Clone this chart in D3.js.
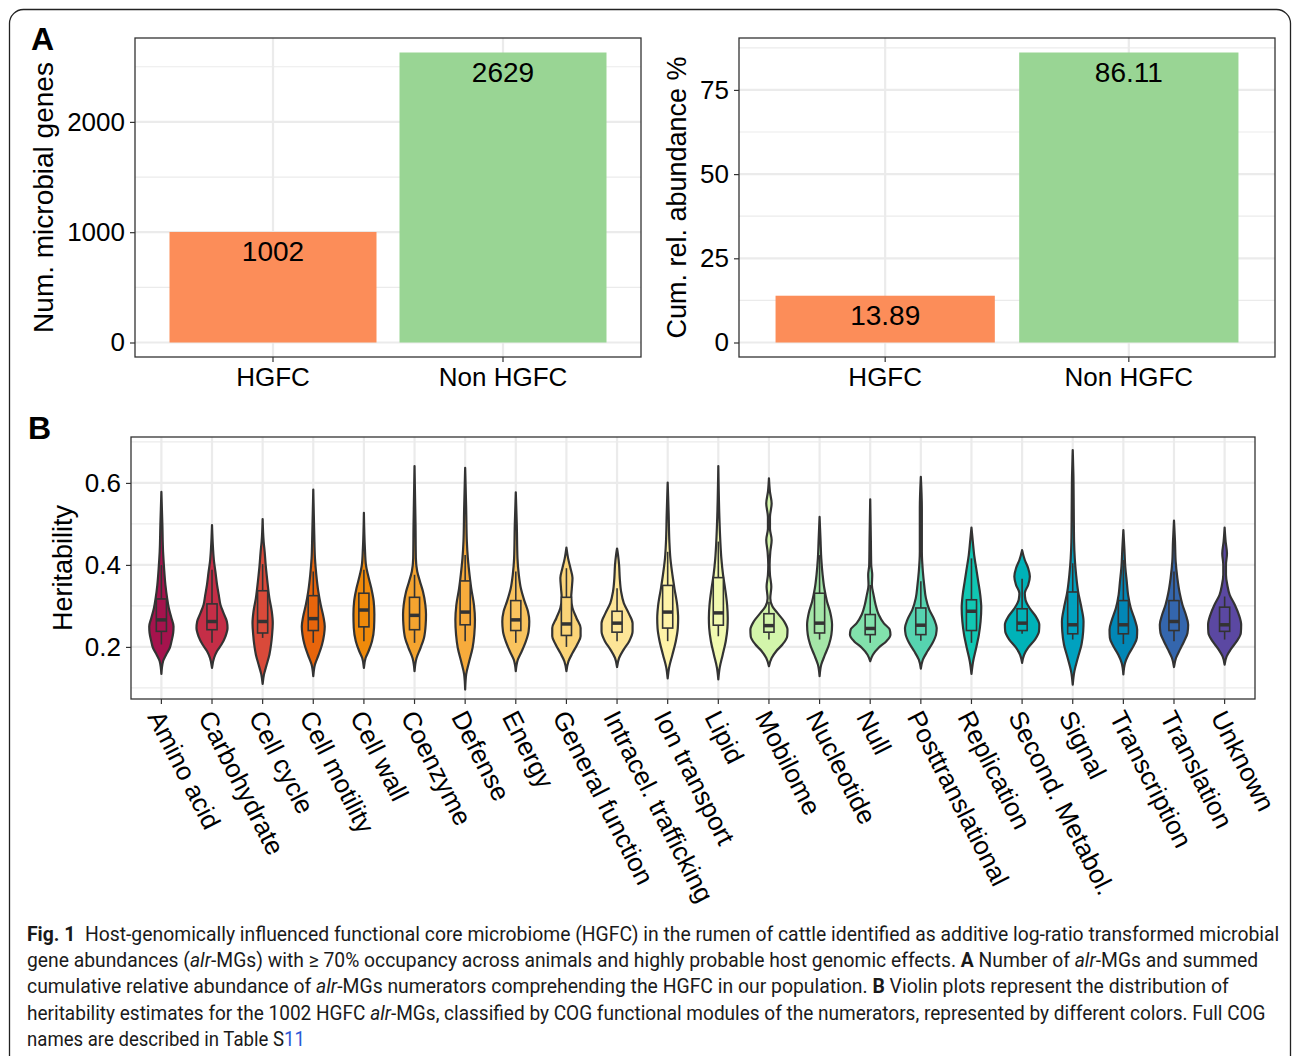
<!DOCTYPE html>
<html>
<head>
<meta charset="utf-8">
<script src="https://cdn.jsdelivr.net/npm/d3@7"></script>
<style>
  body { margin: 0; background: #fff; }
  svg { display: block; font-family: "Liberation Sans", Arial, sans-serif; }
</style>
</head>
<body>
<div id="chart"></div>
<script>
// ---- panel A data
const groups = ["HGFC", "Non HGFC"];
const groupColors = ["#fc8d59", "#99d594"];
const numGenes = [1002, 2629];
const cumAbundance = [13.89, 86.11];
const genesTicks = [0, 1000, 2000];
const abundanceTicks = [0, 25, 50, 75];

// ---- panel B data
const categories = ["Amino acid", "Carbohydrate", "Cell cycle", "Cell motility", "Cell wall",
  "Coenzyme", "Defense", "Energy", "General function", "Intracel. trafficking", "Ion transport",
  "Lipid", "Mobilome", "Nucleotide", "Null", "Posttranslational", "Replication",
  "Second. Metabol.", "Signal", "Transcription", "Translation", "Unknown"];
const violinColors = ["#a6134d", "#c52e47", "#d94a3a", "#e8650c", "#f08a0a", "#f5a42f",
  "#f7ab3c", "#f9c35e", "#fbd478", "#fde597", "#fef3a8", "#f1f9b0", "#d3f5ab", "#a5e6a8",
  "#82e1ac", "#56d3b0", "#11c7b3", "#00b2b8", "#01a1bf", "#0287b6", "#3466ad", "#5b48a2"];
const boxQ1     = [.238, .242, .234, .240, .249, .242, .254, .240, .228, .236, .246, .253, .236, .234, .230, .230, .240, .240, .232, .232, .240, .238];
const boxMedian = [.266, .262, .262, .269, .290, .277, .285, .266, .256, .258, .285, .283, .252, .258, .245, .253, .287, .258, .254, .254, .262, .254];
const boxQ3     = [.317, .305, .337, .325, .331, .321, .361, .313, .321, .287, .350, .369, .281, .331, .279, .295, .315, .293, .334, .313, .313, .297];
const whiskerLo = [.206, .210, .222, .210, .214, .210, .214, .210, .200, .214, .214, .226, .218, .218, .210, .215, .210, .232, .218, .207, .214, .218];
const whiskerHi = [.400, .388, .402, .384, .388, .376, .424, .384, .392, .343, .432, .457, .310, .424, .351, .360, .416, .366, .404, .412, .384, .323];
// [heritability, relative density] profiles
const densities = [
  [[.134,0],[.165,5],[.181,14],[.198,25],[.214,30],[.234,35],[.25,36],[.27,30],[.295,22],[.319,17],[.351,12],[.392,8],[.432,5],[.497,3],[.578,0]],
  [[.149,0],[.173,6],[.19,15],[.206,28],[.226,40],[.246,46],[.262,44],[.283,34],[.303,25],[.327,20],[.351,15],[.384,10],[.408,6],[.44,3],[.497,0]],
  [[.11,0],[.133,4],[.157,12],[.181,20],[.206,25],[.23,28],[.258,30],[.287,27],[.319,20],[.36,14],[.40,9],[.432,6],[.457,3],[.512,0]],
  [[.129,0],[.157,5],[.181,16],[.206,26],[.23,32],[.25,34],[.274,30],[.303,22],[.335,15],[.376,9],[.416,5],[.473,3],[.584,0]],
  [[.149,0],[.173,5],[.19,14],[.214,24],[.246,30],[.279,31],[.311,29],[.343,22],[.376,12],[.40,6],[.44,3],[.527,0]],
  [[.141,0],[.173,6],[.198,18],[.222,28],[.254,33],[.279,34],[.303,32],[.335,25],[.36,16],[.384,8],[.416,4],[.497,3],[.641,0]],
  [[.096,0],[.133,3],[.165,12],[.198,22],[.23,27],[.266,29],[.303,26],[.343,18],[.376,13],[.416,8],[.457,5],[.538,3],[.637,0]],
  [[.141,0],[.169,6],[.19,18],[.214,30],[.238,38],[.262,40],[.287,36],[.311,26],[.343,15],[.376,9],[.416,5],[.497,3],[.577,0]],
  [[.141,0],[.165,6],[.185,18],[.206,32],[.226,42],[.246,42],[.27,30],[.295,18],[.319,14],[.343,16],[.368,18],[.392,12],[.416,5],[.442,0]],
  [[.151,0],[.173,6],[.194,20],[.214,36],[.238,46],[.258,46],[.283,34],[.307,20],[.335,12],[.368,8],[.40,6],[.424,3],[.44,0]],
  [[.123,0],[.149,4],[.181,14],[.214,24],[.246,30],[.27,31],[.303,28],[.343,20],[.376,14],[.416,8],[.457,5],[.521,3],[.601,0]],
  [[.121,0],[.149,4],[.181,13],[.214,22],[.246,27],[.27,28],[.303,26],[.343,20],[.376,14],[.416,9],[.457,6],[.521,3],[.641,0]],
  [[.153,0],[.173,8],[.19,22],[.206,40],[.226,54],[.242,55],[.262,45],[.283,25],[.299,10],[.319,4],[.347,7],[.376,3],[.40,2],[.432,4],[.461,8],[.489,3],[.517,3],[.55,8],[.578,3],[.611,0]],
  [[.129,0],[.157,5],[.181,16],[.206,28],[.23,35],[.254,37],[.283,32],[.311,22],[.343,14],[.376,9],[.416,5],[.457,3],[.517,0]],
  [[.165,0],[.181,8],[.198,25],[.214,48],[.23,60],[.242,58],[.258,40],[.279,25],[.303,16],[.327,10],[.351,5],[.376,6],[.40,3],[.457,2],[.56,0]],
  [[.147,0],[.169,6],[.19,20],[.21,35],[.23,45],[.246,47],[.266,40],[.291,25],[.319,15],[.351,10],[.384,6],[.432,3],[.538,3],[.615,0]],
  [[.134,0],[.165,5],[.198,14],[.23,22],[.262,27],[.295,29],[.327,26],[.36,20],[.392,14],[.424,8],[.457,4],[.491,0]],
  [[.161,0],[.181,6],[.198,18],[.218,38],[.238,50],[.254,51],[.275,40],[.295,22],[.315,10],[.331,8],[.351,18],[.372,23],[.392,18],[.412,8],[.436,0]],
  [[.108,0],[.141,5],[.173,15],[.206,26],[.238,31],[.262,32],[.295,26],[.335,16],[.376,10],[.416,6],[.457,4],[.538,3],[.619,2],[.68,0]],
  [[.133,0],[.161,5],[.181,15],[.202,30],[.222,40],[.242,41],[.266,34],[.295,22],[.327,14],[.36,10],[.392,6],[.44,3],[.485,0]],
  [[.151,0],[.173,6],[.194,18],[.214,30],[.234,40],[.254,42],[.279,35],[.303,25],[.331,17],[.368,10],[.408,5],[.457,3],[.508,0]],
  [[.157,0],[.177,6],[.194,18],[.214,36],[.234,48],[.254,49],[.279,42],[.303,30],[.327,15],[.351,8],[.376,4],[.40,4],[.428,7],[.457,3],[.491,0]]
];
const heritTicks = [0.2, 0.4, 0.6];
const heritMinor = [0.1, 0.3, 0.5, 0.7];

const W = 1293, H = 1056;
const ink = "#333333", gridCol = "#ebebeb";

const svg = d3.select("#chart").append("svg")
  .attr("width", W).attr("height", H)
  .style("background-color", "white");

// outer frame of the figure
svg.append("rect")
  .attr("x", 9.5).attr("y", 9.5).attr("width", W - 12).attr("height", H + 40)
  .attr("rx", 14).attr("fill", "none").attr("stroke", "#222").attr("stroke-width", 1.3);

// grid lines of a panel
function panelFrame(x, y, box, yMajor, yMinor) {
  const g = svg.append("g");
  g.selectAll(".minor").data(yMinor).enter().append("line")
    .attr("x1", box.l).attr("x2", box.r).attr("y1", d => y(d)).attr("y2", d => y(d))
    .attr("stroke", gridCol).attr("stroke-width", 1.2);
  g.selectAll(".majorY").data(yMajor).enter().append("line")
    .attr("x1", box.l).attr("x2", box.r).attr("y1", d => y(d)).attr("y2", d => y(d))
    .attr("stroke", gridCol).attr("stroke-width", 2.2);
  g.selectAll(".majorX").data(x.domain()).enter().append("line")
    .attr("x1", d => x(d) + x.bandwidth() / 2).attr("x2", d => x(d) + x.bandwidth() / 2)
    .attr("y1", box.t).attr("y2", box.b)
    .attr("stroke", gridCol).attr("stroke-width", 2.2);
  return g;
}

function axes(g, x, y, box, yMajor, fmt) {
  const ya = g.append("g").attr("transform", `translate(${box.l},0)`)
    .call(d3.axisLeft(y).tickValues(yMajor).tickSize(5).tickPadding(5).tickFormat(fmt));
  ya.select(".domain").remove();
  ya.selectAll("line").attr("stroke", ink).attr("stroke-width", 1.2);
  ya.selectAll("text").attr("font-size", 26).attr("fill", "#000").attr("font-family", "Liberation Sans, Arial, sans-serif");
  const xa = g.append("g").attr("transform", `translate(0,${box.b})`)
    .call(d3.axisBottom(x).tickSize(5).tickPadding(6));
  xa.select(".domain").remove();
  xa.selectAll("line").attr("stroke", ink).attr("stroke-width", 1.2);
  xa.selectAll("text").attr("font-size", 26).attr("fill", "#000").attr("font-family", "Liberation Sans, Arial, sans-serif");
  g.append("rect").attr("x", box.l).attr("y", box.t)
    .attr("width", box.r - box.l).attr("height", box.b - box.t)
    .attr("fill", "none").attr("stroke", ink).attr("stroke-width", 1.3);
  return xa;
}

function yTitle(text, cx, cy, size) {
  svg.append("text").attr("transform", `translate(${cx},${cy}) rotate(-90)`)
    .attr("text-anchor", "middle").attr("dominant-baseline", "central")
    .attr("font-size", size).attr("fill", "#000").text(text);
}

// ---- Panel A bars
function barPanel(values, box, yTicks, yMinor, labelFmt, title, titleX, titleSize) {
  const x = d3.scaleBand().domain(groups).range([box.l, box.r]).paddingInner(0).paddingOuter(0.1);
  const vmax = d3.max(values);
  const y = d3.scaleLinear().domain([-0.05 * vmax, 1.05 * vmax]).range([box.b, box.t]);
  const g = panelFrame(x, y, box, yTicks, yMinor);
  g.selectAll(".bar").data(values).enter().append("rect")
    .attr("x", (d, i) => x(groups[i]) + x.bandwidth() * 0.05)
    .attr("width", x.bandwidth() * 0.9)
    .attr("y", d => y(d)).attr("height", d => y(0) - y(d))
    .attr("fill", (d, i) => groupColors[i]);
  g.selectAll(".lbl").data(values).enter().append("text")
    .attr("x", (d, i) => x(groups[i]) + x.bandwidth() / 2)
    .attr("y", d => y(d) + 29)
    .attr("text-anchor", "middle").attr("font-size", 28).attr("fill", "#000")
    .text(labelFmt);
  axes(g, x, y, box, yTicks, d3.format("d"));
  yTitle(title, titleX, (box.t + box.b) / 2, titleSize);
}

barPanel(numGenes, {l: 135, r: 641, t: 38, b: 357}, genesTicks, [500, 1500, 2500],
  d => d, "Num. microbial genes", 43, 28);
barPanel(cumAbundance, {l: 739, r: 1275, t: 38, b: 357}, abundanceTicks, [12.5, 37.5, 62.5, 87.5],
  d => d.toFixed(2), "Cum. rel. abundance %", 677, 27);

svg.append("text").attr("x", 31).attr("y", 50).attr("font-size", 32).attr("font-weight", "bold").text("A");
svg.append("text").attr("x", 28).attr("y", 439).attr("font-size", 32).attr("font-weight", "bold").text("B");

// ---- Panel B: violins
const boxB = {l: 131, r: 1255, t: 437, b: 699};
const xB = d3.scaleBand().domain(categories).range([boxB.l, boxB.r]).paddingInner(0).paddingOuter(0.1);
const yB = d3.scaleLinear().domain([0.073, 0.712]).range([boxB.b, boxB.t]);
const wB = d3.scaleLinear().domain([0, d3.max(densities.flat(), d => d[1])]).range([0, xB.bandwidth() * 0.4]);
const gB = panelFrame(xB, yB, boxB, heritTicks, heritMinor);

categories.forEach((c, i) => {
  const cx = xB(c) + xB.bandwidth() / 2;
  const area = d3.area()
    .y(d => yB(d[0]))
    .x0(d => cx - wB(d[1]))
    .x1(d => cx + wB(d[1]))
    .curve(d3.curveMonotoneY);
  gB.append("path").datum(densities[i]).attr("d", area)
    .attr("fill", violinColors[i]).attr("stroke", ink).attr("stroke-width", 2.2)
    .attr("stroke-linejoin", "round");
  const bw = xB.bandwidth() * 0.2;
  gB.append("line").attr("x1", cx).attr("x2", cx)
    .attr("y1", yB(whiskerLo[i])).attr("y2", yB(boxQ1[i]))
    .attr("stroke", ink).attr("stroke-width", 1.6);
  gB.append("line").attr("x1", cx).attr("x2", cx)
    .attr("y1", yB(boxQ3[i])).attr("y2", yB(whiskerHi[i]))
    .attr("stroke", ink).attr("stroke-width", 1.6);
  gB.append("rect").attr("x", cx - bw / 2).attr("width", bw)
    .attr("y", yB(boxQ3[i])).attr("height", yB(boxQ1[i]) - yB(boxQ3[i]))
    .attr("fill", violinColors[i]).attr("stroke", ink).attr("stroke-width", 1.6);
  gB.append("line").attr("x1", cx - bw / 2).attr("x2", cx + bw / 2)
    .attr("y1", yB(boxMedian[i])).attr("y2", yB(boxMedian[i]))
    .attr("stroke", ink).attr("stroke-width", 3.5);
});

const xaB = axes(gB, xB, yB, boxB, heritTicks, d3.format(".1f"));
xaB.selectAll("text")
  .attr("text-anchor", "start")
  .attr("transform", "translate(3,9) rotate(63)")
  .attr("x", 0).attr("y", 0).attr("dy", "0.75em");
yTitle("Heritability", 63, (boxB.t + boxB.b) / 2, 27);

// ---- caption (condensed by a horizontal scale to the printed line widths)
const capLines = [
  {w: 1253, parts: [["Fig. 1", "b"], ["  Host-genomically influenced functional core microbiome (HGFC) in the rumen of cattle identified as additive log-ratio transformed microbial"]]},
  {w: 1232, parts: [["gene abundances ("], ["alr", "i"], ["-MGs) with \u2265 70% occupancy across animals and highly probable host genomic effects. "], ["A", "b"], [" Number of "], ["alr", "i"], ["-MGs and summed"]]},
  {w: 1202, parts: [["cumulative relative abundance of "], ["alr", "i"], ["-MGs numerators comprehending the HGFC in our population. "], ["B", "b"], [" Violin plots represent the distribution of"]]},
  {w: 1240, parts: [["heritability estimates for the 1002 HGFC "], ["alr", "i"], ["-MGs, classified by COG functional modules of the numerators, represented by different colors. Full COG"]]},
  {w: 278, parts: [["names are described in Table S"], ["11", "link"]]}
];
capLines.forEach((ln, i) => {
  const t = svg.append("text")
    .attr("font-family", "Roboto, 'Liberation Sans', sans-serif")
    .attr("font-size", 20.5).attr("fill", "#1a1a1a")
    .attr("xml:space", "preserve");
  ln.parts.forEach(p => {
    const s = t.append("tspan").text(p[0]);
    if (p[1] === "b") s.attr("font-weight", "bold");
    if (p[1] === "i") s.attr("font-style", "italic");
    if (p[1] === "link") s.attr("fill", "#2b56d6");
  });
  const len = t.node().getComputedTextLength();
  t.attr("transform", `translate(27,${941 + i * 26.2}) scale(${ln.w / len},1)`);
});
</script>
</body>
</html>
